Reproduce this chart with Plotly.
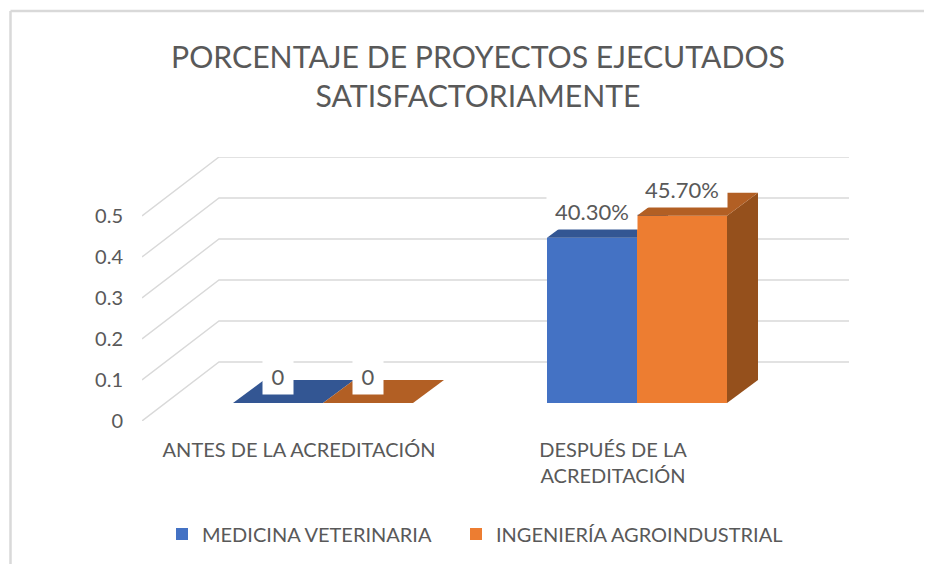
import plotly.graph_objects as go

# ---------- data ----------
categories = ["ANTES DE LA ACREDITACIÓN", "DESPUÉS DE LA<br>ACREDITACIÓN"]
series_names = ["MEDICINA VETERINARIA", "INGENIERÍA AGROINDUSTRIAL"]
medicina = [0, 0.403]
ingenieria = [0, 0.457]
medicina_labels = ["0", "40.30%"]
ingenieria_labels = ["0", "45.70%"]
y_ticks = [0, 0.1, 0.2, 0.3, 0.4, 0.5]
y_ticktext = ["0", "0.1", "0.2", "0.3", "0.4", "0.5"]

# ---------- style / layout ----------
PAGE = 8                              # default page margin round the figure
W, H = 932 - PAGE, 564 - PAGE
FONT = "Lato"
TXT = "#595959"
GRID = "#D9D9D9"
CAT_PX, UNIT_PX = 314.0, 410.0        # pixels per category / per value unit
X0_PX, Y0_PX = 323.0 - PAGE, 421.0 - PAGE  # pixel of category 0 / value 0 (front plane)
LEFT_PX, RIGHT_PX, TOP_PX = 142.0 - PAGE, 849.0 - PAGE, 157.0 - PAGE
WALL_DX, WALL_DY = 77 / CAT_PX, 59 / UNIT_PX    # depth of the chart floor
BAR_DX, BAR_DY = 31 / CAT_PX, 23 / UNIT_PX      # depth of a bar
BAR_W = 90 / CAT_PX
FLOOR = 18 / UNIT_PX                  # bars stand this far behind the front plane
LABEL_DX, LABEL_DY = 45 / CAT_PX, 27 / UNIT_PX
TICK_SHIFT = -24 / CAT_PX

xr = [(LEFT_PX - X0_PX) / CAT_PX, (RIGHT_PX - X0_PX) / CAT_PX]
yr = [0, (Y0_PX - TOP_PX) / UNIT_PX]
xdom = [LEFT_PX / W, RIGHT_PX / W]
ydom = [(H - Y0_PX) / H, (H - TOP_PX) / H]

fig = go.Figure()

# chart walls: gridlines run diagonally from the front plane then along the back wall
gx, gy = [], []
for v in y_ticks:
    gx += [xr[0], xr[0] + WALL_DX, xr[1], None]
    gy += [v, v + WALL_DY, v + WALL_DY, None]
fig.add_trace(go.Scatter(x=gx, y=gy, mode="lines", line=dict(color=GRID, width=1.4),
                         showlegend=False, hoverinfo="skip"))


def add_series(name, values, offset, front, top, side, xa, ya, legend):
    xs = list(range(len(values)))
    fig.add_trace(go.Bar(x=xs, y=values, base=FLOOR, name=name, width=BAR_W, offset=offset,
                         marker=dict(color=front, line=dict(width=0)), legend=legend,
                         xaxis=xa, yaxis=ya, hoverinfo="skip"))
    for i, v in enumerate(values):
        l, r = i + offset, i + offset + BAR_W
        t = FLOOR + v
        fig.add_trace(go.Scatter(
            x=[r, r + BAR_DX, r + BAR_DX, r, r],
            y=[FLOOR, FLOOR + BAR_DY, t + BAR_DY, t, FLOOR],
            mode="lines", fill="toself", fillcolor=side, line=dict(width=0),
            showlegend=False, hoverinfo="skip", xaxis=xa, yaxis=ya))
        fig.add_trace(go.Scatter(
            x=[l, r, r + BAR_DX, l + BAR_DX, l],
            y=[t, t, t + BAR_DY, t + BAR_DY, t],
            mode="lines", fill="toself", fillcolor=top, line=dict(width=0),
            showlegend=False, hoverinfo="skip", xaxis=xa, yaxis=ya))


add_series(series_names[0], medicina, -BAR_W, "#4472C4", "#335693", "#2A4A80", "x2", "y2", "legend")
add_series(series_names[1], ingenieria, 0, "#ED7D31", "#B25F24", "#95501C", "x3", "y3", "legend2")

annotations = []
for vals, labs, sign in ((medicina, medicina_labels, -1), (ingenieria, ingenieria_labels, 1)):
    for i, (v, lab) in enumerate(zip(vals, labs)):
        annotations.append(dict(
            x=i + sign * LABEL_DX, y=FLOOR + v + LABEL_DY, xref="x", yref="y", text=lab,
            showarrow=False, bgcolor="white", align="center", yanchor="middle", xanchor="center",
            width=28 if lab == "0" else 88, height=34,
            font=dict(family=FONT, size=22, color=TXT)))

BORDER_X, BORDER_Y = (10.5 - PAGE) / W, 1 - (11 - PAGE) / H
shapes = [
    dict(type="line", xref="paper", yref="paper", x0=BORDER_X, x1=1, y0=BORDER_Y, y1=BORDER_Y,
         line=dict(color=GRID, width=2.5)),
    dict(type="line", xref="paper", yref="paper", x0=BORDER_X, x1=BORDER_X, y0=0, y1=BORDER_Y,
         line=dict(color=GRID, width=2.5)),
]

hidden = dict(visible=False, fixedrange=True, automargin=False)
legend_common = dict(orientation="h", xanchor="left", y=1 - (534 - PAGE) / H, yanchor="middle",
                     font=dict(family=FONT, size=20, color=TXT), bgcolor="rgba(0,0,0,0)")
fig.update_layout(
    width=W, height=H, autosize=False,
    margin=dict(l=0, r=0, t=0, b=0),
    paper_bgcolor="white", plot_bgcolor="white",
    barmode="overlay",
    font=dict(family=FONT, color=TXT),
    title=dict(text="PORCENTAJE DE PROYECTOS EJECUTADOS<br>SATISFACTORIAMENTE",
               x=(478 - PAGE) / W, xanchor="center", y=1 - (68 - PAGE) / H, yanchor="top",
               font=dict(family=FONT, size=30.2, color=TXT)),
    xaxis=dict(domain=xdom, range=xr, showgrid=False, zeroline=False, showline=False, automargin=False,
               tickmode="array", tickvals=[i + TICK_SHIFT for i in range(len(categories))],
               ticktext=categories, ticks="", ticklabelstandoff=15,
               tickfont=dict(family=FONT, size=20, color=TXT)),
    yaxis=dict(domain=ydom, range=yr, showgrid=False, zeroline=False, showline=False, automargin=False,
               tickmode="array", tickvals=y_ticks, ticktext=y_ticktext, ticks="",
               ticklabelstandoff=18, tickfont=dict(family=FONT, size=20, color=TXT)),
    xaxis2=dict(domain=xdom, range=xr, overlaying="x", **hidden),
    yaxis2=dict(domain=ydom, range=yr, overlaying="y", **hidden),
    xaxis3=dict(domain=xdom, range=xr, overlaying="x", **hidden),
    yaxis3=dict(domain=ydom, range=yr, overlaying="y", **hidden),
    legend=dict(x=(162 - PAGE) / W, **legend_common),
    legend2=dict(x=(456 - PAGE) / W, **legend_common),
    annotations=annotations,
    shapes=shapes,
)

fig.write_html("out.html")
